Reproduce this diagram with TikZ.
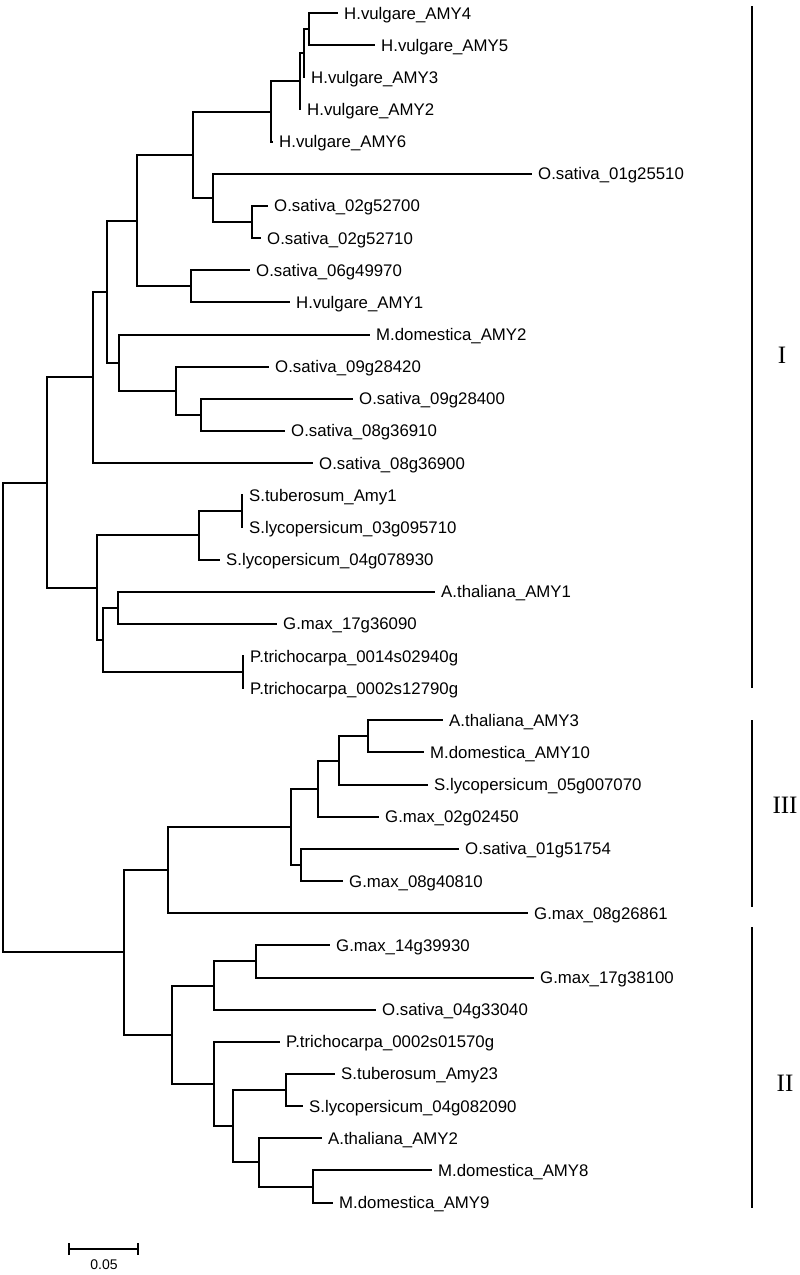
\documentclass[tikz,border=0pt]{standalone}
\usepackage{fontspec}
\setmainfont{Liberation Sans}
\newfontfamily\romfont{Liberation Serif}
\usetikzlibrary{arrows.meta}

\begin{document}
\begin{tikzpicture}[x=1pt,y=-1pt,
  br/.style={line width=2pt},
  leaf/.style={anchor=west,inner xsep=6pt,inner ysep=0pt,text height=12pt,text depth=0pt,
    font=\fontsize{16.8}{18}\selectfont},
  grp/.style={font=\romfont\fontsize{25}{28}\selectfont}]
\useasboundingbox (0,0) rectangle (800,1275);
% leaves: index / tip x / name (rows 32.15 apart)
\foreach \i/\x/\t in {0/338/H.vulgare\_AMY4,1/375/H.vulgare\_AMY5,2/305/H.vulgare\_AMY3,
    3/301/H.vulgare\_AMY2,4/273/H.vulgare\_AMY6,5/532/O.sativa\_01g25510,
    6/268/O.sativa\_02g52700,7/261/O.sativa\_02g52710,8/250/O.sativa\_06g49970,
    9/290/H.vulgare\_AMY1,10/370/M.domestica\_AMY2,11/269/O.sativa\_09g28420,
    12/353/O.sativa\_09g28400,13/285/O.sativa\_08g36910,14/313/O.sativa\_08g36900,
    15/243/S.tuberosum\_Amy1,16/243/S.lycopersicum\_03g095710,17/220/S.lycopersicum\_04g078930,
    18/435/A.thaliana\_AMY1,19/277/G.max\_17g36090,20/244/P.trichocarpa\_0014s02940g,
    21/244/P.trichocarpa\_0002s12790g,22/443/A.thaliana\_AMY3,23/424/M.domestica\_AMY10,
    24/428/S.lycopersicum\_05g007070,25/379/G.max\_02g02450,26/459/O.sativa\_01g51754,
    27/343/G.max\_08g40810,28/528/G.max\_08g26861,29/330/G.max\_14g39930,
    30/534/G.max\_17g38100,31/376/O.sativa\_04g33040,32/280/P.trichocarpa\_0002s01570g,
    33/335/S.tuberosum\_Amy23,34/303/S.lycopersicum\_04g082090,35/322/A.thaliana\_AMY2,
    36/432/M.domestica\_AMY8,37/333/M.domestica\_AMY9}{
  \coordinate (t\i) at (\x,{13+32.15*\i});
  \node[leaf] (l\i) at (t\i) {\t};
}
% inner nodes
\foreach \n/\x/\y in {a1/309/29.1,a2/304/53.2,a3/300/81.3,a4/271/111.5,b1/252/222.0,
    b2/213/197.9,a5/193/154.7,c1/191/286.3,a6/137/220.5,d1/201/414.9,d2/176/390.8,
    d3/119/362.6,a7/107/291.6,a8/93/377.3,e1/242/511.3,e2/199/535.4,f1/118/607.8,
    f2/243/672.1,f3/103/639.9,e3/97/587.7,a9/47/482.5,g1/368/736.4,g2/339/760.5,
    g3/318/788.6,g4/301/865.0,g5/291/826.8,g6/168/870.0,h1/256/961.4,h2/214/985.5,
    i1/286/1090.0,i2/313/1186.5,i3/259/1162.4,i4/233/1126.2,i5/214/1084.0,
    h3/172/1034.8,h4/124/952.4,root/3/717.5}{
  \coordinate (\n) at (\x,\y);
}
% branches
\foreach \p/\c in {a1/t0,a1/t1,a2/a1,a2/t2,a3/a2,a3/t3,a4/a3,a4/t4,b1/t6,b1/t7,b2/t5,b2/b1,
    a5/a4,a5/b2,c1/t8,c1/t9,a6/a5,a6/c1,d1/t12,d1/t13,d2/t11,d2/d1,d3/t10,d3/d2,a7/a6,
    a7/d3,a8/a7,a8/t14,e1/t15,e1/t16,e2/e1,e2/t17,f1/t18,f1/t19,f2/t20,f2/t21,f3/f1,
    f3/f2,e3/e2,e3/f3,a9/a8,a9/e3,g1/t22,g1/t23,g2/g1,g2/t24,g3/g2,g3/t25,g4/t26,g4/t27,
    g5/g3,g5/g4,g6/g5,g6/t28,h1/t29,h1/t30,h2/h1,h2/t31,i1/t33,i1/t34,i2/t36,i2/t37,
    i3/t35,i3/i2,i4/i1,i4/i3,i5/t32,i5/i4,h3/h2,h3/i5,h4/g6,h4/h3,root/a9,root/h4}{
  \draw[br] (\p) |- (\c);
}
% groups
\coordinate (gIa) at (752,6);      \coordinate (gIb) at (752,688);
\coordinate (gIIIa) at (752,720);  \coordinate (gIIIb) at (752,907);
\coordinate (gIIa) at (752,927);   \coordinate (gIIb) at (752,1208);
\draw[br] (gIa) -- (gIb);
\draw[br] (gIIIa) -- (gIIIb);
\draw[br] (gIIa) -- (gIIb);
\node[grp] (cI) at (782,355) {I};
\node[grp] (cIII) at (785,805) {III};
\node[grp] (cII) at (785,1083) {II};
% scale bar
\coordinate (s0) at (68,1249);
\coordinate (s1) at (139,1249);
\draw[br,{Bar[width=12pt]}-{Bar[width=12pt]}] (s0) -- (s1);
\node[font=\fontsize{14}{16}\selectfont] (sl) at (104,1265) {0.05};
\end{tikzpicture}
\end{document}
